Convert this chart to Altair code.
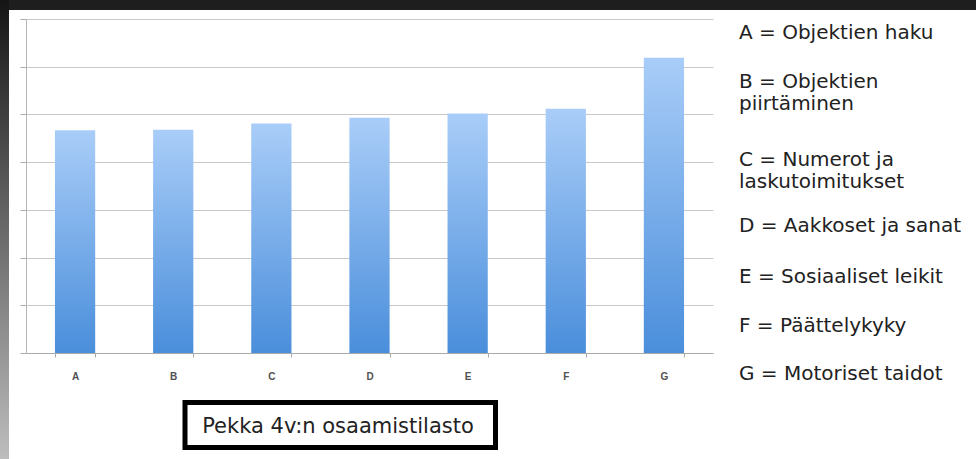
import altair as alt
import pandas as pd

# ---- data ----
categories = ["A", "B", "C", "D", "E", "F", "G"]
values = [4.67, 4.68, 4.81, 4.93, 5.02, 5.12, 6.19]
y_ticks = [0, 1, 2, 3, 4, 5, 6, 7]
legend_labels = [
    "A = Objektien haku",
    "B = Objektien\npiirtäminen",
    "C = Numerot ja\nlaskutoimitukset",
    "D = Aakkoset ja sanat",
    "E = Sosiaaliset leikit",
    "F = Päättelykyky",
    "G = Motoriset taidot",
]
title_text = "Pekka 4v:n osaamistilasto"

# ---- layout (pixels) ----
PAD_L, PAD_T = 26, 19
W, H = 687, 334
TOTAL_W, TOTAL_H = 976, 459
legend_x = 739 - PAD_L
legend_baselines = [39, 88, 166, 232, 283, 332, 380]

df = pd.DataFrame({"cat": categories, "value": values})

bar_gradient = alt.LinearGradient(
    gradient="linear",
    x1=0, y1=0, x2=0, y2=1,
    stops=[
        alt.GradientStop(color="#a9cdf8", offset=0),
        alt.GradientStop(color="#4a8edb", offset=1),
    ],
)

bars = alt.Chart(df).mark_bar(color=bar_gradient).encode(
    x=alt.X(
        "cat:N",
        sort=categories,
        scale=alt.Scale(paddingInner=0.59, paddingOuter=0.295),
        axis=alt.Axis(
            title=None,
            labelAngle=0,
            labelFont="Liberation Sans",
            labelFontSize=10,
            labelFontWeight="bold",
            labelColor="#505050",
            labelPadding=14,
            tickBand="extent",
            tickSize=4,
            tickColor="#aaaaaa",
            domainColor="#aaaaaa",
            grid=False,
        ),
    ),
    y=alt.Y(
        "value:Q",
        scale=alt.Scale(domain=[0, 7], nice=False),
        axis=alt.Axis(
            title=None,
            values=y_ticks,
            labels=False,
            tickSize=6,
            tickColor="#aaaaaa",
            domainColor="#b5b5b5",
            grid=True,
            gridColor="#c8c8c8",
            gridWidth=1.2,
        ),
    ),
)

one = pd.DataFrame({"k": [0]})

# dark frame: top band and left gradient strip
top_band = alt.Chart(one).mark_rect(color="#1e1e1e").encode(
    x=alt.value(-PAD_L), x2=alt.value(TOTAL_W - PAD_L),
    y=alt.value(-PAD_T), y2=alt.value(10 - PAD_T),
)
left_grad = alt.LinearGradient(
    gradient="linear", x1=0, y1=0, x2=0, y2=1,
    stops=[
        alt.GradientStop(color="#151515", offset=0),
        alt.GradientStop(color="#bdbdbd", offset=1),
    ],
)
left_strip = alt.Chart(one).mark_rect(color=left_grad).encode(
    x=alt.value(-PAD_L), x2=alt.value(9 - PAD_L),
    y=alt.value(-PAD_T), y2=alt.value(TOTAL_H - PAD_T),
)

# legend text on the right
legend_layers = []
for lbl, b in zip(legend_labels, legend_baselines):
    legend_layers.append(
        alt.Chart(pd.DataFrame({"t": [lbl]})).mark_text(
            align="left", baseline="alphabetic", font="DejaVu Sans",
            fontSize=20, color="#222222", lineBreak="\n", lineHeight=22,
        ).encode(text="t:N", x=alt.value(legend_x), y=alt.value(b - PAD_T))
    )

# boxed title under the chart
box = alt.Chart(one).mark_rect(fill="white", stroke="black", strokeWidth=5).encode(
    x=alt.value(185 - PAD_L), x2=alt.value(495.5 - PAD_L),
    y=alt.value(402.5 - PAD_T), y2=alt.value(447.5 - PAD_T),
)
title = alt.Chart(pd.DataFrame({"t": [title_text]})).mark_text(
    align="center", baseline="middle", font="DejaVu Sans", fontSize=21, color="#222222",
).encode(text="t:N", x=alt.value(338 - PAD_L), y=alt.value(427 - PAD_T))

chart = alt.layer(top_band, left_strip, bars, *legend_layers, box, title).properties(
    width=W, height=H,
    padding={"left": PAD_L, "top": PAD_T, "right": TOTAL_W - PAD_L - W, "bottom": TOTAL_H - PAD_T - H},
    autosize=alt.AutoSizeParams(type="none"),
    background="white",
).configure_view(stroke=None)

chart.save("out.html", embed_options={"renderer": "svg", "actions": False})
